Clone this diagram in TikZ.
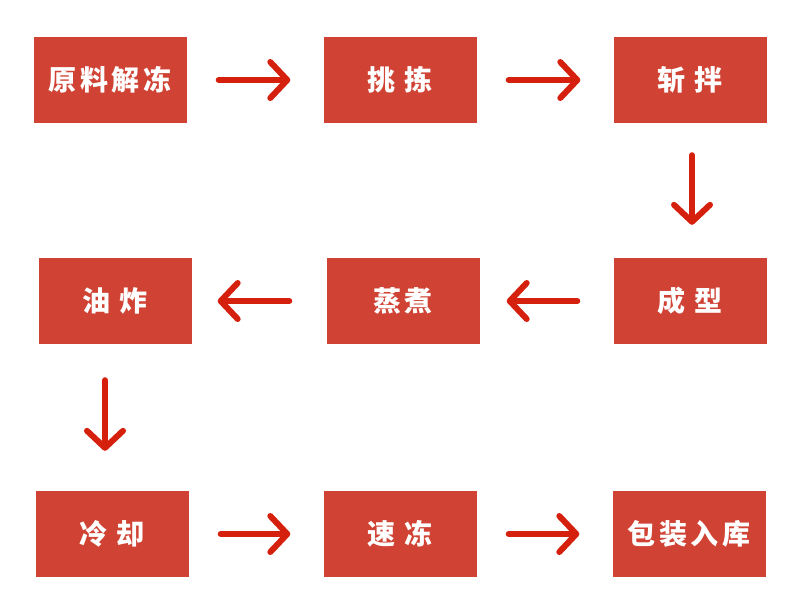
\documentclass[tikz,border=0pt]{standalone}
\usepackage{fontspec}
\usetikzlibrary{arrows.meta}
\newfontfamily\cjk[LetterSpace=12]{Noto Sans CJK SC}
\definecolor{boxred}{HTML}{D04334}
\definecolor{arrowred}{HTML}{D6200E}

\begin{document}
\begin{tikzpicture}[x=1pt, y=-1pt,
	step box/.style={fill=boxred, minimum width=153pt, minimum height=86pt, inner sep=0pt,
		text=white, font=\cjk\bfseries\fontsize{28}{28}\selectfont},
	flow/.style={draw=arrowred, line width=6pt, line cap=round,
		-{Straight Barb[length=17pt, width=36pt, round]}, shorten <=32pt, shorten >=33pt}]
		\useasboundingbox (0,0) rectangle (800,606);

		\node[step box] (jiedong) at (110,80) {原料解冻};
		\node[step box] (tiaojian) at (400,80) {挑\hspace{0.35em}拣};
		\node[step box] (zhanban) at (690,80) {斩\hspace{0.35em}拌};
		\node[step box] (chengxing) at (690,301) {成\hspace{0.35em}型};
		\node[step box] (zhengzhu) at (403,301) {蒸煮};
		\node[step box] (youzha) at (115,301) {油\hspace{0.35em}炸};
		\node[step box] (lengque) at (112,534) {冷\hspace{0.35em}却};
		\node[step box] (sudong) at (400,534) {速\hspace{0.35em}冻};
		\node[step box] (baozhuang) at (689,534) {包装入库};

		\draw[flow] (jiedong) -- (tiaojian);
		\draw[flow] (tiaojian) -- (zhanban);
		\draw[flow] ([xshift=2pt]zhanban.south) -- ([xshift=2pt]chengxing.north);
		\draw[flow, shorten <=36pt, shorten >=27pt] (chengxing) -- (zhengzhu);
		\draw[flow, shorten <=37pt, shorten >=26pt] (zhengzhu) -- (youzha);
		\draw[flow, shorten <=36pt, shorten >=40pt] ([xshift=-10pt]youzha.south) -- ([xshift=-7pt]lengque.north);
		\draw[flow] (lengque) -- (sudong);
		\draw[flow] (sudong) -- (baozhuang);
	\end{tikzpicture}
\end{document}
